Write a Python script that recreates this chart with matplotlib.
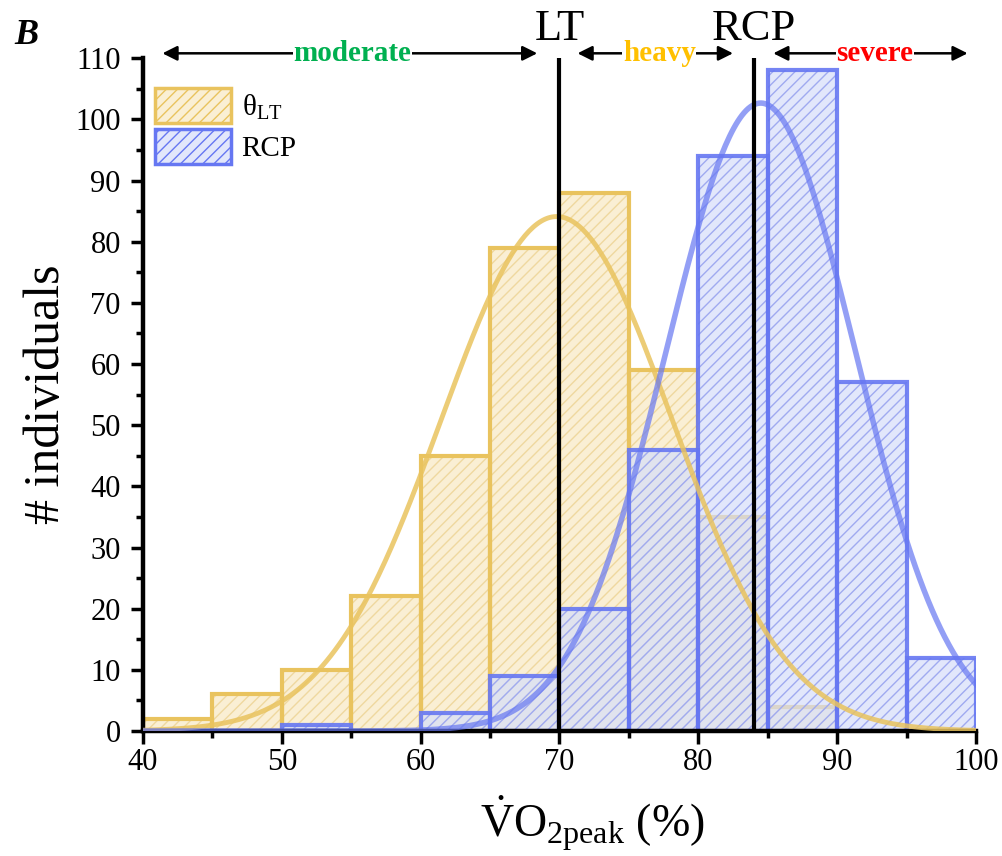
import numpy as np
import matplotlib
matplotlib.use('Agg')
import matplotlib.pyplot as plt
from matplotlib.patches import Patch

plt.rcParams['font.family'] = ['Liberation Serif', 'DejaVu Serif']
plt.rcParams['mathtext.fontset'] = 'custom'
plt.rcParams['mathtext.rm'] = 'Liberation Serif'
plt.rcParams['mathtext.it'] = 'Liberation Serif:italic'
plt.rcParams['hatch.linewidth'] = 1.0

# histogram data (bins of 5 %)
bin_edges = [40, 45, 50, 55, 60, 65, 70, 75, 80, 85, 90, 95, 100]
lt_counts = [2, 6, 10, 22, 45, 79, 88, 59, 35, 4, 0, 0]
rcp_counts = [0, 0, 1, 0, 3, 9, 20, 46, 94, 108, 57, 12]

# normal fits
lt_fit = (69.8, 8.3)
rcp_fit = (84.5, 6.8)

lt_mark = 70
rcp_mark = 84

lt_edge = '#E9C35E'
lt_face = '#FAEFD4'
lt_hatch = '#EFD89F'
rcp_edge = '#6677F2'
rcp_face = (0.84, 0.87, 0.98, 0.7)
rcp_hatch = '#A0AAF0'


def normal_curve(x, mu, sd, n, width):
    return n * width / (sd * np.sqrt(2 * np.pi)) * np.exp(-(x - mu) ** 2 / (2 * sd ** 2))


fig = plt.figure(figsize=(10.02, 8.56), dpi=100)
ax = fig.add_axes([0.1427, 0.146, 0.8313, 0.786])

left = np.array(bin_edges[:-1])
width = 5

# LT bars
ax.bar(left, lt_counts, width=width, align='edge', color=lt_face,
       edgecolor=lt_hatch, hatch='///', linewidth=0, zorder=1)
ax.bar(left, lt_counts, width=width, align='edge', fill=False,
       edgecolor=lt_edge, linewidth=3, zorder=1.1)

# RCP bars
rcp_h = [c if c > 0 else np.nan for c in rcp_counts]
ax.bar(left, rcp_h, width=width, align='edge', color=rcp_face,
       edgecolor=rcp_hatch, hatch='///', linewidth=0, zorder=2)
ax.bar(left, rcp_h, width=width, align='edge', fill=False,
       edgecolor=rcp_edge, linewidth=3, alpha=0.9, zorder=2.1)

# fitted curves
xs = np.linspace(40, 100, 400)
ax.plot(xs, normal_curve(xs, *lt_fit, sum(lt_counts), width), color=lt_edge,
        lw=3.5, alpha=0.85, zorder=3)
ax.plot(xs, normal_curve(xs, *rcp_fit, sum(rcp_counts), width), color=rcp_edge,
        lw=4, alpha=0.7, zorder=3)

# threshold lines
ax.vlines([lt_mark, rcp_mark], 0, 110, color='black', lw=3, zorder=4)

ax.set_xlim(40, 100)
ax.set_ylim(0, 110)
ax.set_xticks(np.arange(40, 101, 10))
ax.set_xticks(np.arange(40, 101, 5), minor=True)
ax.set_yticks(np.arange(0, 111, 10))
ax.set_yticks(np.arange(0, 111, 5), minor=True)
ax.tick_params(which='major', length=9, width=2.5, labelsize=22, direction='out')
ax.tick_params(axis='y', which='major', pad=7)
ax.tick_params(which='minor', length=5, width=2.5, direction='out')
for s in ['top', 'right']:
    ax.spines[s].set_visible(False)
for s in ['left', 'bottom']:
    ax.spines[s].set_linewidth(3.2)

ax.set_xlabel(r'$\dot{\mathrm{V}}\mathrm{O}_{2\mathrm{peak}}$ (%)', fontsize=33)
ax.xaxis.set_label_coords(0.539, -0.094)
ax.set_ylabel('# individuals', fontsize=36, labelpad=4)

# zone annotations above the plot
y_arr = 110.8
zones = [
    ('moderate', 41.4, 68.4, 55.1, '#00B050'),
    ('heavy', 71.3, 82.5, 77.2, '#FFC000'),
    ('severe', 85.4, 99.4, 92.7, '#FF0000'),
]
for name, x0, x1, xc, col in zones:
    ax.annotate('', xy=(x0, y_arr), xytext=(x1, y_arr), annotation_clip=False,
                arrowprops=dict(arrowstyle='<|-|>', color='black', lw=1.8,
                                mutation_scale=22, shrinkA=0, shrinkB=0))
    ax.text(xc, y_arr, name, color=col, fontsize=21, fontweight='bold',
            ha='center', va='center', clip_on=False,
            bbox=dict(facecolor='white', edgecolor='none', pad=0.5))

ax.text(lt_mark, 112.9, 'LT', fontsize=32, ha='center', va='baseline', clip_on=False)
ax.text(rcp_mark, 112.9, 'RCP', fontsize=32, ha='center', va='baseline', clip_on=False)

fig.text(0.014, 0.959, 'B', fontsize=26, fontweight='bold', fontstyle='italic',
         va='center')

handles = [
    Patch(facecolor=lt_face, edgecolor=lt_edge, hatch='///', linewidth=2.5),
    Patch(facecolor=rcp_face, edgecolor=rcp_edge, hatch='///', linewidth=2.5),
]
ax.legend(handles, [r'$\mathrm{\theta}_{\mathrm{LT}}$', 'RCP'], loc='upper left',
          bbox_to_anchor=(0.015, 0.955), frameon=False, fontsize=21,
          handlelength=2.6, handleheight=1.45, handletextpad=0.35,
          labelspacing=0.2, borderaxespad=0, borderpad=0)

fig.savefig('out.png', dpi=100)
